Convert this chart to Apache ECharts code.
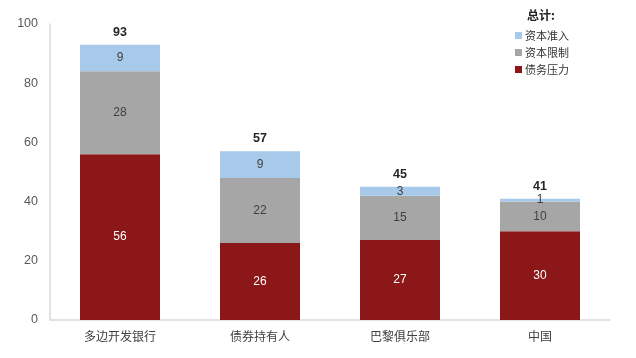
<!DOCTYPE html>
<html><head><meta charset="utf-8">
<script src="https://cdn.jsdelivr.net/npm/echarts@6/dist/echarts.min.js"></script>
<style>html,body{margin:0;padding:0;background:#fff}#c{width:636px;height:358px}</style>
</head><body><div id="c"></div>
<script>
const categories = ['多边开发银行', '债券持有人', '巴黎俱乐部', '中国'];
const debtPressure = [56, 26, 27, 30];
const capitalLimit = [28, 22, 15, 10];
const capitalAccess = [9, 9, 3, 1];
const yTicks = [0, 20, 40, 60, 80, 100];
const totals = categories.map((_, i) => debtPressure[i] + capitalLimit[i] + capitalAccess[i]);

const font = 'Liberation Sans, Arial, Noto Sans CJK SC, sans-serif';
const chart = echarts.init(document.getElementById('c'));
chart.setOption({
  animation: false,
  textStyle: { fontFamily: font },
  title: { text: '总计:', left: 522, top: 4, textStyle: { fontSize: 12, fontWeight: 'bold', color: '#222', fontFamily: 'Noto Sans CJK SC' } },
  legend: {
    orient: 'vertical', left: 510, top: 25, itemWidth: 7, itemHeight: 7, itemGap: 6,
    icon: 'rect',
    data: ['资本准入', '资本限制', '债务压力'],
    textStyle: { fontSize: 11, color: '#333', fontFamily: 'Noto Sans CJK SC', padding: [0, 0, 0, -2] }
  },
  grid: { left: 50, right: 26, top: 24, bottom: 38, containLabel: false },
  xAxis: {
    type: 'category', data: categories,
    axisLine: { lineStyle: { color: '#d9d9d9', width: 1.5 } },
    axisTick: { show: false },
    axisLabel: { fontSize: 12, color: '#404040', margin: 10, fontFamily: 'Noto Sans CJK SC' }
  },
  yAxis: {
    type: 'value', min: yTicks[0], max: yTicks[yTicks.length - 1], interval: 20,
    axisLine: { show: true, lineStyle: { color: '#d9d9d9', width: 1.5 } },
    axisTick: { show: false },
    splitLine: { show: false },
    axisLabel: { fontSize: 12.5, color: '#595959', margin: 12 }
  },
  series: [
    { name: '债务压力', type: 'bar', stack: 't', data: debtPressure, barWidth: 80,
      itemStyle: { color: '#8C1719' },
      label: { show: true, position: 'inside', color: '#fff', fontSize: 12 } },
    { name: '资本限制', type: 'bar', stack: 't', data: capitalLimit,
      itemStyle: { color: '#A6A6A6' },
      label: { show: true, position: 'inside', color: '#404040', fontSize: 12 } },
    { name: '资本准入', type: 'bar', stack: 't', data: capitalAccess,
      itemStyle: { color: '#A7C9EA' },
      label: { show: true, position: 'inside', color: '#404040', fontSize: 12 } },
    { name: '总计', type: 'bar', stack: 't', data: totals.map(() => 0),
      itemStyle: { color: 'transparent' },
      label: { show: true, position: 'top', distance: 6, color: '#262626', fontSize: 12.5, fontWeight: 'bold',
        formatter: p => totals[p.dataIndex] } }
  ]
});
</script></body></html>
